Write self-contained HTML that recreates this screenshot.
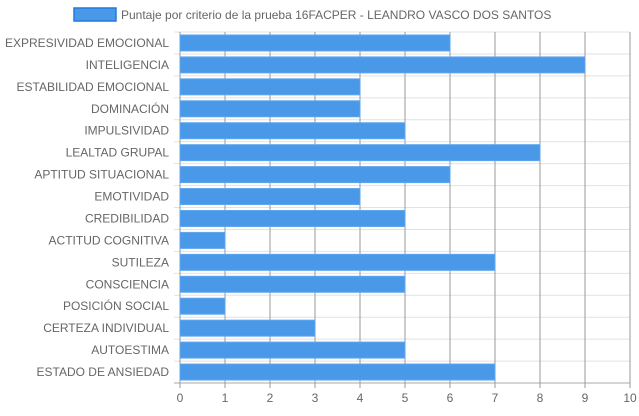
<!DOCTYPE html>
<html><head><meta charset="utf-8"><style>
body{margin:0;background:#fff;font-family:"Liberation Sans",sans-serif}
svg text{font-family:"Liberation Sans",sans-serif}
</style></head><body>
<svg id="c" width="639" height="411">
<rect x="74" y="8" width="42" height="13" fill="#4a98e8" stroke="#1f7ae0" stroke-width="1.5"/>
<text x="121" y="19" font-size="12" fill="#666">Puntaje por criterio de la prueba 16FACPER - LEANDRO VASCO DOS SANTOS</text>
<g id="grid"></g><g id="bars"></g><g id="labels"></g>
</svg>
<script>
const categories=["EXPRESIVIDAD EMOCIONAL","INTELIGENCIA","ESTABILIDAD EMOCIONAL","DOMINACIÓN","IMPULSIVIDAD","LEALTAD GRUPAL","APTITUD SITUACIONAL","EMOTIVIDAD","CREDIBILIDAD","ACTITUD COGNITIVA","SUTILEZA","CONSCIENCIA","POSICIÓN SOCIAL","CERTEZA INDIVIDUAL","AUTOESTIMA","ESTADO DE ANSIEDAD"];
const values=[6,9,4,4,5,8,6,4,5,1,7,5,1,3,5,7];
const ticks=[0,1,2,3,4,5,6,7,8,9,10];
const NS="http://www.w3.org/2000/svg";
const L=180,R=630,T=32,B=383,max=10;
const x=v=>L+(v/max)*(R-L);
const band=(B-T)/categories.length;
const y=i=>T+i*band;
function mk(p,t,a){const e=document.createElementNS(NS,t);for(const k in a)e.setAttribute(k,a[k]);p.appendChild(e);return e;}
const grid=document.getElementById('grid'),bars=document.getElementById('bars'),labels=document.getElementById('labels');
for(let i=0;i<=categories.length;i++){
 const g=mk(grid,'line',{x1:L-6,x2:R,y1:y(i),y2:y(i),stroke:i==categories.length?'#aaa':'#e2e2e2'});
 
 
}
ticks.forEach(t=>{
 const g=mk(grid,'line',{x1:x(t),x2:x(t),y1:T,y2:B+5,stroke:'#999'});
 
 
 const tx=mk(labels,'text',{x:x(t),y:B+19,'font-size':12,fill:'#666','text-anchor':'middle'});
 tx.textContent=t;
 
 
});
categories.forEach((c,i)=>{
 const cy=y(i)+band/2;
 const b=mk(bars,'rect',{x:L,y:cy-8,width:x(values[i])-L,height:16,fill:'#4a98e8',stroke:'#5fa6ee','stroke-width':1});
 
 
 const tx=mk(labels,'text',{x:L-11,y:cy+4,'font-size':12,fill:'#666','text-anchor':'end'});
 tx.textContent=c;
 
 
});
</script>
</body></html>
